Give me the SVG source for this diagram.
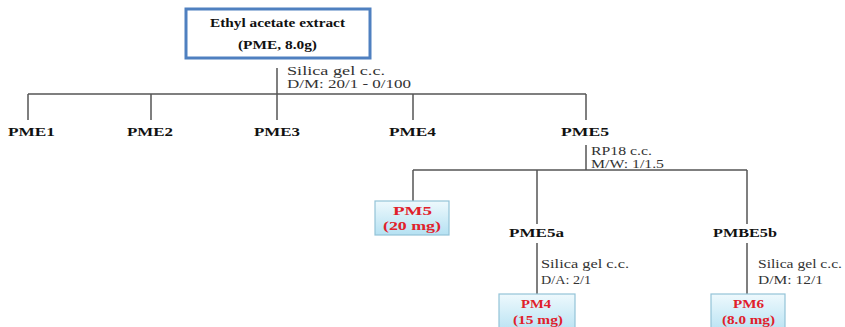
<svg xmlns="http://www.w3.org/2000/svg" width="845" height="327" viewBox="0 0 845 327">
<defs>
<linearGradient id="pm" x1="0" y1="0" x2="0" y2="1">
<stop offset="0" stop-color="#eef9fd"/>
<stop offset="1" stop-color="#b5e1f2"/>
</linearGradient>
<style>
text{font-family:"Liberation Serif","Times New Roman",serif}
.t{font-size:13px;font-weight:bold;fill:#111}
.r{font-size:13px;font-weight:bold;fill:#e0202a}
.c{font-size:12px;fill:#333}
.pm{fill:url(#pm);stroke:#93c3d8;stroke-width:1.2}
.ln{stroke:#555;stroke-width:1.5;fill:none}
</style>
</defs>
<rect width="845" height="327" fill="#fff"/>
<g id="connectors" class="ln">
<path d="M277 68V120M28 94H586M28 94V120M151 94V120M413 94V120M586 94V120"/>
<path d="M586 145V170M413 170H747M413 170V201M537 170V224M747 170V224"/>
<path d="M537 243V294M747 243V294"/>
</g>
<g id="extract">
<rect x="186" y="9" width="184" height="49" fill="#fff" stroke="#4f80c0" stroke-width="3"/>
<text class="t" x="210" y="27" textLength="135" lengthAdjust="spacingAndGlyphs">Ethyl acetate extract</text>
<text class="t" x="238" y="49" textLength="79" lengthAdjust="spacingAndGlyphs">(PME, 8.0g)</text>
</g>
<g id="cc1">
<text class="c" x="287" y="75" textLength="98" lengthAdjust="spacingAndGlyphs">Silica gel c.c.</text>
<text class="c" x="287" y="88" textLength="124" lengthAdjust="spacingAndGlyphs">D/M: 20/1 - 0/100</text>
</g>
<g id="PME1"><text class="t" x="8" y="136" textLength="47" lengthAdjust="spacingAndGlyphs">PME1</text></g>
<g id="PME2"><text class="t" x="127" y="136" textLength="46" lengthAdjust="spacingAndGlyphs">PME2</text></g>
<g id="PME3"><text class="t" x="254" y="136" textLength="46" lengthAdjust="spacingAndGlyphs">PME3</text></g>
<g id="PME4"><text class="t" x="389" y="136" textLength="47" lengthAdjust="spacingAndGlyphs">PME4</text></g>
<g id="PME5"><text class="t" x="561" y="136" textLength="48" lengthAdjust="spacingAndGlyphs">PME5</text></g>
<g id="cc2">
<text class="c" x="591" y="155" textLength="61" lengthAdjust="spacingAndGlyphs">RP18 c.c.</text>
<text class="c" x="591" y="168" textLength="73" lengthAdjust="spacingAndGlyphs">M/W: 1/1.5</text>
</g>
<g id="PM5">
<rect class="pm" x="375" y="201" width="74" height="34"/>
<text class="r" x="393" y="215" textLength="39" lengthAdjust="spacingAndGlyphs">PM5</text>
<text class="r" x="383" y="230" textLength="58" lengthAdjust="spacingAndGlyphs">(20 mg)</text>
</g>
<g id="PME5a"><text class="t" x="509" y="237" textLength="55" lengthAdjust="spacingAndGlyphs">PME5a</text></g>
<g id="PMBE5b"><text class="t" x="713" y="237" textLength="64" lengthAdjust="spacingAndGlyphs">PMBE5b</text></g>
<g id="cc3">
<text class="c" x="541" y="268" textLength="88" lengthAdjust="spacingAndGlyphs">Silica gel c.c.</text>
<text class="c" x="541" y="284" textLength="50" lengthAdjust="spacingAndGlyphs">D/A: 2/1</text>
</g>
<g id="cc4">
<text class="c" x="758" y="268" textLength="84" lengthAdjust="spacingAndGlyphs">Silica gel c.c.</text>
<text class="c" x="758" y="284" textLength="65" lengthAdjust="spacingAndGlyphs">D/M: 12/1</text>
</g>
<g id="PM4">
<rect class="pm" x="499" y="294" width="76" height="40"/>
<text class="r" x="521" y="308" textLength="30" lengthAdjust="spacingAndGlyphs">PM4</text>
<text class="r" x="513" y="324" textLength="50" lengthAdjust="spacingAndGlyphs">(15 mg)</text>
</g>
<g id="PM6">
<rect class="pm" x="711" y="294" width="74" height="40"/>
<text class="r" x="733" y="308" textLength="31" lengthAdjust="spacingAndGlyphs">PM6</text>
<text class="r" x="722" y="324" textLength="53" lengthAdjust="spacingAndGlyphs">(8.0 mg)</text>
</g>
</svg>
